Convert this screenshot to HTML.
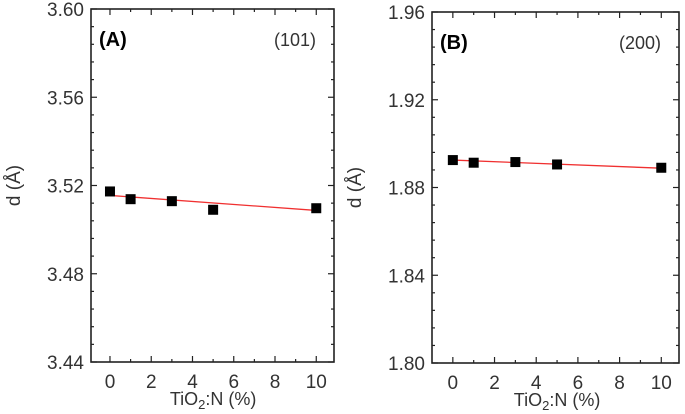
<!DOCTYPE html>
<html><head><meta charset="utf-8"><style>
body{margin:0;background:#fff}
svg{display:block;font-family:"Liberation Sans",sans-serif}
</style></head><body>
<svg id="c" width="685" height="414"></svg>
<script>
const xCats=[0,1,3,5,10];
const seriesA=[3.5173,3.5138,3.5129,3.5090,3.5097];
const fitA=[3.5155,3.5087];
const seriesB=[1.8925,1.8913,1.8916,1.8905,1.8890];
const fitB=[1.8925,1.8888];
const xTicks=[0,2,4,6,8,10];
const yTicksA=["3.44","3.48","3.52","3.56","3.60"];
const yTicksB=["1.80","1.84","1.88","1.92","1.96"];
const NS="http://www.w3.org/2000/svg";
const svg=document.getElementById('c');
function mk(t,a,p){const e=document.createElementNS(NS,t);for(const k in a)e.setAttribute(k,a[k]);(p||svg).appendChild(e);return e;}
function panel(o){
  const g=mk('g',{});
  
  
  const {L,R,T,B}=o;
  const xs=v=>L+(v-o.xmin)/(o.xmax-o.xmin)*(R-L);
  const ymin=+o.yt[0],ymax=+o.yt[o.yt.length-1];
  const ys=v=>B-(v-ymin)/(ymax-ymin)*(B-T);
  const fr=mk('rect',{x:L,y:T,width:R-L,height:B-T,fill:'none',stroke:'#222','stroke-width':1.6},g);
  
  
  for(let v=0;v<=10;v++){const x=xs(v);const len=v%2===0?6:3;
    mk('line',{x1:x,x2:x,y1:B,y2:B-len,stroke:'#222','stroke-width':1.2},g);
    mk('line',{x1:x,x2:x,y1:T,y2:T+len,stroke:'#222','stroke-width':1.2},g);}
  xTicks.forEach(v=>{const t=mk('text',{x:xs(v),y:B+26,'text-anchor':'middle','font-size':19,fill:'#333'},g);t.textContent=v;
    });
  const step=(ymax-ymin)/20;
  for(let i=0;i<=20;i++){const y=ys(ymin+i*step);const len=i%5===0?6:3;
    mk('line',{x1:L,x2:L+len,y1:y,y2:y,stroke:'#222','stroke-width':1.2},g);
    mk('line',{x1:R,x2:R-len,y1:y,y2:y,stroke:'#222','stroke-width':1.2},g);}
  o.yt.forEach(s=>{const t=mk('text',{x:L-7,y:ys(+s)+7,'text-anchor':'end','font-size':19,fill:'#333'},g);t.textContent=s;
    });
  const xt=mk('text',{x:(xs(0)+xs(10))/2,y:B+43,'text-anchor':'middle','font-size':18,fill:'#333'},g);
  xt.innerHTML='TiO<tspan font-size="13" dy="4">2</tspan><tspan dy="-4">:N (%)</tspan>';
  
  const yt=mk('text',{x:0,y:0,'text-anchor':'middle','font-size':19,fill:'#333',transform:`translate(${o.yl},${(T+B)/2}) rotate(-90)`},g);
  yt.textContent='d (Å)';
  
  const fl=mk('line',{x1:xs(xCats[0]),y1:ys(o.fit[0]),x2:xs(xCats[xCats.length-1]),y2:ys(o.fit[1]),stroke:'#f03030','stroke-width':1.3},g);
  
  xCats.forEach((c,i)=>{const r=mk('rect',{x:xs(c)-5,y:ys(o.data[i])-5,width:10,height:10,fill:'#000'},g);
    });
  const lb=mk('text',{x:L+8,y:T+37,'font-size':20,'font-weight':'bold',fill:'#000'},g);lb.textContent=o.label;
  
  const pl=mk('text',{x:R-18,y:T+37,'text-anchor':'end','font-size':18,fill:'#333'},g);pl.textContent=o.plane;
  
}
panel({name:'panel-a',L:91,R:334,T:9,B:362,xmin:-0.92,xmax:10.86,yt:yTicksA,data:seriesA,fit:fitA,label:'(A)',plane:'(101)',yl:20});
panel({name:'panel-b',L:432,R:679,T:12,B:363,xmin:-1.0,xmax:10.85,yt:yTicksB,data:seriesB,fit:fitB,label:'(B)',plane:'(200)',yl:361});
</script>
</body></html>
